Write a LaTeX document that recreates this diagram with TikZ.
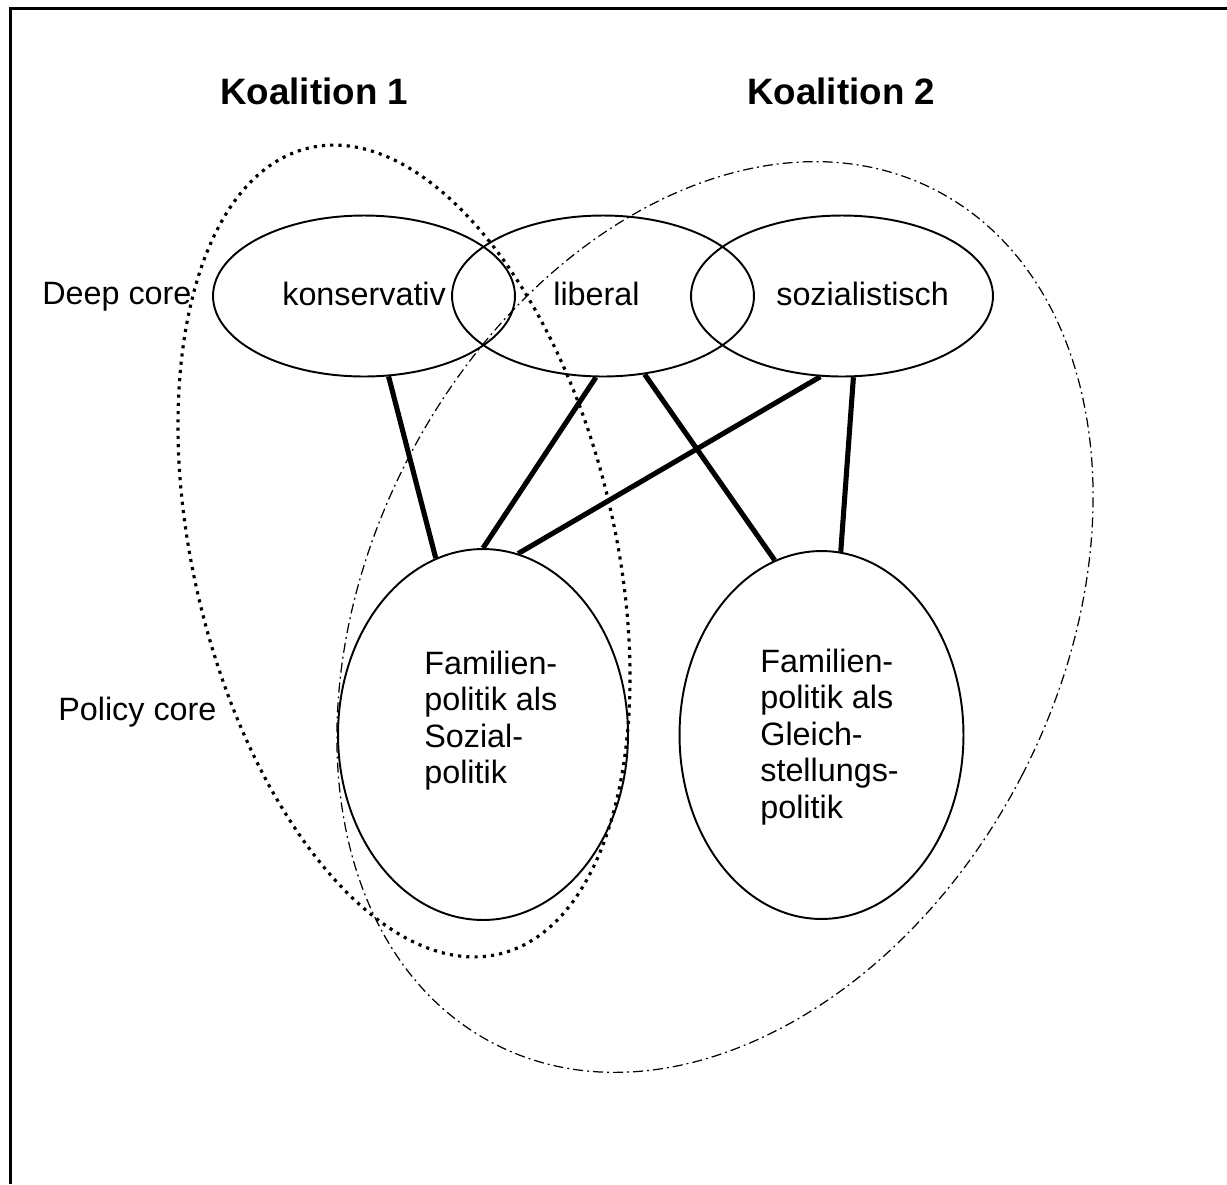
\documentclass[tikz,border=0pt]{standalone}
\usepackage{fontspec}
\setmainfont{Liberation Sans}
\usetikzlibrary{shapes.geometric}

\tikzset{
    belief/.style={draw, ellipse, line width=1.1pt, inner sep=0pt},
    link/.style={line width=2.9pt},
    lbl/.style={inner sep=0pt, anchor=base west, font=\fontsize{18.4}{20.7}\selectfont},
    coalA/.style={line width=1.8pt, dash pattern=on 1.8pt off 2.9pt},
    coalB/.style={line width=0.7pt, dash pattern=on 5.7pt off 2.3pt on 1.1pt off 2.3pt},
}

\begin{document}
\begin{tikzpicture}[x=0.02cm, y=-0.02cm]
    \useasboundingbox (0,0) rectangle (1227,1184);

    % Draw frame
    \draw[line width=1.7pt] (10.5,1184) -- (10.5,8.5) -- (1227,8.5);

    % Headings
    \node[lbl, font=\fontsize{20.9}{24}\selectfont\bfseries] (koal1) at (220,104) {Koalition 1};
    \node[lbl, font=\fontsize{20.9}{24}\selectfont\bfseries] (koal2) at (747,104) {Koalition 2};

    % Deep core beliefs
    \node[belief, minimum width=6.04cm, minimum height=3.22cm] (kons) at (364,296) {};
    \node[belief, minimum width=6.04cm, minimum height=3.22cm] (lib) at (603,296) {};
    \node[belief, minimum width=6.04cm, minimum height=3.22cm] (soz) at (842,296) {};
    \node[lbl] (kons-t) at (282,305) {konservativ};
    \node[lbl] (lib-t) at (553,305) {liberal};
    \node[lbl] (soz-t) at (776,305) {sozialistisch};

    % Policy core beliefs
    \node[belief, minimum width=5.8cm, minimum height=7.42cm] (sozpol) at (483,734.5) {};
    \node[belief, minimum width=5.68cm, minimum height=7.36cm] (gleich) at (821.5,735) {};
    \node[lbl, align=left] (sozpol-t) at (424,783.5) {Familien-\\politik als\\Sozial-\\politik};
    \node[lbl, align=left] (gleich-t) at (760,818) {Familien-\\politik als\\Gleich-\\stellungs-\\politik};

    % Row labels
    \node[lbl] (deep) at (42,304) {Deep core};
    \node[lbl] (policy) at (58,720) {Policy core};

    % Draw links
    \draw[link] (kons.-73.5) -- (sozpol.105.2);
    \draw[link] (lib.-95.6) -- (sozpol.north);
    \draw[link] (lib.-62.6) -- (gleich.105.6);
    \draw[link] (soz.-105.9) -- (sozpol.79.4);
    \draw[link] (soz.-82.3) -- (gleich.84.9);

    % Draw coalitions
    \draw[coalA, rotate around={13.3:(404,551)}] (404,551) ellipse [x radius=4.212cm, y radius=8.284cm];
    \draw[coalB, rotate around={-27.4:(715,617)}] (715,617) ellipse [x radius=6.91cm, y radius=9.612cm];
\end{tikzpicture}
\end{document}
